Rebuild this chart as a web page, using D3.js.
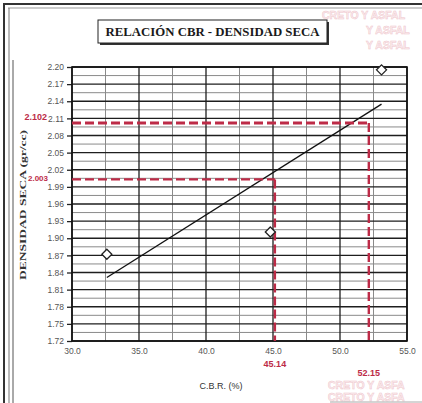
<!DOCTYPE html>
<html>
<head>
<meta charset="utf-8">
<script src="https://cdn.jsdelivr.net/npm/d3@7"></script>
<style>
  body { margin: 0; background: #fff; }
  svg { display: block; }
</style>
</head>
<body>
<svg id="chart" width="422" height="403"></svg>
<script>
// Test results: CBR (%) against dry density (gr/cc)
const cbrValues = [32.6, 44.8, 53.1];
const densityValues = [1.872, 1.911, 2.195];

// Design readings taken off the trend line
const designDensity = [2.003, 2.102];
const designCbr = [45.14, 52.15];

// Axis ticks
const xTicks = [30, 35, 40, 45, 50, 55];
const yTicks = [1.72, 1.75, 1.78, 1.81, 1.84, 1.87, 1.90, 1.93, 1.96, 1.99,
                2.02, 2.05, 2.08, 2.11, 2.14, 2.17, 2.20];
const xMinorTicks = [32.5, 37.5, 42.5, 47.5, 52.5];

// Lab stamp fragments printed behind the sheet
const stampRows = ["CRETO Y ASFAL", "Y ASFAL", "Y ASFAL", "CRETO Y ASFA", "CRETO Y ASFA"];

const svg = d3.select("#chart");
const RED = "#bd2b47";

const x = d3.scaleLinear().domain([30, 55]).range([72, 407]);
const y = d3.scaleLinear().domain([1.72, 2.20]).range([341, 67]);

// faint stamp in the background
const wm = svg.append("g")
  .attr("font-family", "Liberation Sans, Arial, sans-serif")
  .attr("font-weight", "bold")
  .attr("font-size", 10.5)
  .attr("fill", "#fbeef0")
  .attr("stroke", "#efc6cc")
  .attr("stroke-width", 0.5);
[[322, 19], [366, 34], [366, 49], [328, 389], [328, 401]].forEach(([tx, ty], i) => {
  wm.append("text").attr("x", tx).attr("y", ty).text(stampRows[i]);
});

// outer frame
const frame = svg.append("g").attr("fill", "none");
frame.append("line").attr("x1", 3).attr("x2", 422).attr("y1", 4).attr("y2", 4)
  .attr("stroke", "#333").attr("stroke-width", 2);
frame.append("line").attr("x1", 8).attr("x2", 422).attr("y1", 8).attr("y2", 8)
  .attr("stroke", "#999").attr("stroke-width", 1);
frame.append("line").attr("x1", 4).attr("x2", 4).attr("y1", 3).attr("y2", 403)
  .attr("stroke", "#333").attr("stroke-width", 2);
frame.append("line").attr("x1", 9).attr("x2", 9).attr("y1", 8).attr("y2", 403)
  .attr("stroke", "#777").attr("stroke-width", 1);
frame.append("line").attr("x1", 13).attr("x2", 13).attr("y1", 60).attr("y2", 403)
  .attr("stroke", "#555").attr("stroke-width", 1);
frame.append("line").attr("x1", 330).attr("x2", 422).attr("y1", 402).attr("y2", 402)
  .attr("stroke", "#aaa").attr("stroke-width", 1);

// title box with drop shadow
svg.append("rect").attr("x", 100).attr("y", 22).attr("width", 229).attr("height", 23)
  .attr("fill", "#333");
svg.append("rect").attr("x", 98).attr("y", 20).attr("width", 229).attr("height", 23)
  .attr("fill", "#fff").attr("stroke", "#222").attr("stroke-width", 1);
svg.append("text")
  .attr("x", 212.5).attr("y", 36)
  .attr("text-anchor", "middle")
  .attr("font-family", "Liberation Serif, Times New Roman, serif")
  .attr("font-weight", "bold")
  .attr("font-size", 11.5)
  .attr("fill", "#1a1a1a")
  .attr("textLength", 214)
  .attr("lengthAdjust", "spacingAndGlyphs")
  .text("RELACIÓN CBR - DENSIDAD SECA");

// plot background
svg.append("rect")
  .attr("x", x(30)).attr("y", y(2.20))
  .attr("width", x(55) - x(30)).attr("height", y(1.72) - y(2.20))
  .attr("fill", "#fff");

// grid: minor lines first, majors on top
const grid = svg.append("g");
const yMinor = d3.pairs(yTicks).map(([a, b]) => (a + b) / 2);
grid.selectAll("line.ymin").data(yMinor).join("line")
  .attr("x1", x(30)).attr("x2", x(55))
  .attr("y1", d => y(d)).attr("y2", d => y(d))
  .attr("stroke", "#8a8a8a").attr("stroke-width", 1);
grid.selectAll("line.xmin").data(xMinorTicks).join("line")
  .attr("x1", d => x(d)).attr("x2", d => x(d))
  .attr("y1", y(2.20)).attr("y2", y(1.72))
  .attr("stroke", "#8a8a8a").attr("stroke-width", 1);
grid.selectAll("line.ymaj").data(yTicks).join("line")
  .attr("x1", x(30)).attr("x2", x(55))
  .attr("y1", d => y(d)).attr("y2", d => y(d))
  .attr("stroke", "#1e1e1e").attr("stroke-width", 1.3);
grid.selectAll("line.xmaj").data(xTicks).join("line")
  .attr("x1", d => x(d)).attr("x2", d => x(d))
  .attr("y1", y(2.20)).attr("y2", y(1.72))
  .attr("stroke", "#1e1e1e").attr("stroke-width", 1.3);

// axes
const yAxis = svg.append("g")
  .attr("transform", `translate(${x(30)},0)`)
  .call(d3.axisLeft(y).tickValues(yTicks).tickFormat(d3.format(".2f")).tickSize(5).tickPadding(3));
const xAxis = svg.append("g")
  .attr("transform", `translate(0,${y(1.72)})`)
  .call(d3.axisBottom(x).tickValues(xTicks).tickFormat(d3.format(".1f")).tickSize(0).tickPadding(7));
[yAxis, xAxis].forEach(g => {
  g.select(".domain").remove();
  g.selectAll("line").attr("stroke", "#222").attr("stroke-width", 1.3);
  g.selectAll("text")
    .attr("font-family", "Liberation Sans, Arial, sans-serif")
    .attr("font-size", 8.5)
    .attr("fill", "#555");
});

// plot border
svg.append("rect")
  .attr("x", x(30)).attr("y", y(2.20))
  .attr("width", x(55) - x(30)).attr("height", y(1.72) - y(2.20))
  .attr("fill", "none").attr("stroke", "#111").attr("stroke-width", 1.6);

// least-squares trend line through the test points
const mx = d3.mean(cbrValues), my = d3.mean(densityValues);
const sxy = d3.sum(cbrValues, (v, i) => (v - mx) * (densityValues[i] - my));
const sxx = d3.sum(cbrValues, v => (v - mx) * (v - mx));
const slope = sxy / sxx, intercept = my - slope * mx;
const xExtent = d3.extent(cbrValues);
svg.append("path")
  .datum(xExtent.map(v => [v, intercept + slope * v]))
  .attr("d", d3.line().x(d => x(d[0])).y(d => y(d[1])))
  .attr("fill", "none").attr("stroke", "#111").attr("stroke-width", 1.3);

// design reading guides
const guides = svg.append("g").attr("fill", "none").attr("stroke", RED);
designDensity.forEach((dv, i) => {
  const cv = designCbr[i];
  guides.append("line")
    .attr("x1", x(30)).attr("x2", x(cv))
    .attr("y1", y(dv)).attr("y2", y(dv))
    .attr("stroke-width", i === 1 ? 3 : 2.2)
    .attr("stroke-dasharray", "9,4");
  guides.append("line")
    .attr("x1", x(cv)).attr("x2", x(cv))
    .attr("y1", y(dv)).attr("y2", y(1.72))
    .attr("stroke-width", 2.4)
    .attr("stroke-dasharray", "9,4");
});

// design labels
const lab = svg.append("g")
  .attr("font-family", "Liberation Sans, Arial, sans-serif")
  .attr("font-weight", "bold")
  .attr("fill", RED);
const yLabelRight = [48, 47];
designDensity.forEach((dv, i) => {
  lab.append("text")
    .attr("x", yLabelRight[i]).attr("y", y(dv) + (i === 1 ? -5 : -1))
    .attr("text-anchor", "end")
    .attr("dominant-baseline", "middle")
    .attr("font-size", i === 1 ? 9 : 8)
    .text(d3.format(".3f")(dv));
});
const xLabelY = [365, 374];
designCbr.forEach((cv, i) => {
  lab.append("text")
    .attr("x", x(cv)).attr("y", xLabelY[i])
    .attr("text-anchor", "middle")
    .attr("dominant-baseline", "middle")
    .attr("font-size", 9)
    .text(d3.format(".2f")(cv));
});

// test points
svg.append("g").selectAll("path")
  .data(cbrValues.map((v, i) => [v, densityValues[i]]))
  .join("path")
  .attr("transform", d => `translate(${x(d[0])},${y(d[1])})`)
  .attr("d", d3.symbol(d3.symbolDiamond2, 64))
  .attr("fill", "#fff").attr("stroke", "#222").attr("stroke-width", 1.3);

// axis titles
svg.append("text")
  .attr("x", 221).attr("y", 389)
  .attr("text-anchor", "middle")
  .attr("font-family", "Liberation Sans, Arial, sans-serif")
  .attr("font-size", 9)
  .attr("fill", "#333")
  .text("C.B.R. (%)");
svg.append("text")
  .attr("transform", "translate(26,205) rotate(-90)")
  .attr("text-anchor", "middle")
  .attr("font-family", "Liberation Serif, Times New Roman, serif")
  .attr("font-weight", "bold")
  .attr("font-size", 9)
  .attr("fill", "#333")
  .attr("textLength", 150)
  .attr("lengthAdjust", "spacingAndGlyphs")
  .text("DENSIDAD SECA (gr/cc)");
</script>
</body>
</html>
